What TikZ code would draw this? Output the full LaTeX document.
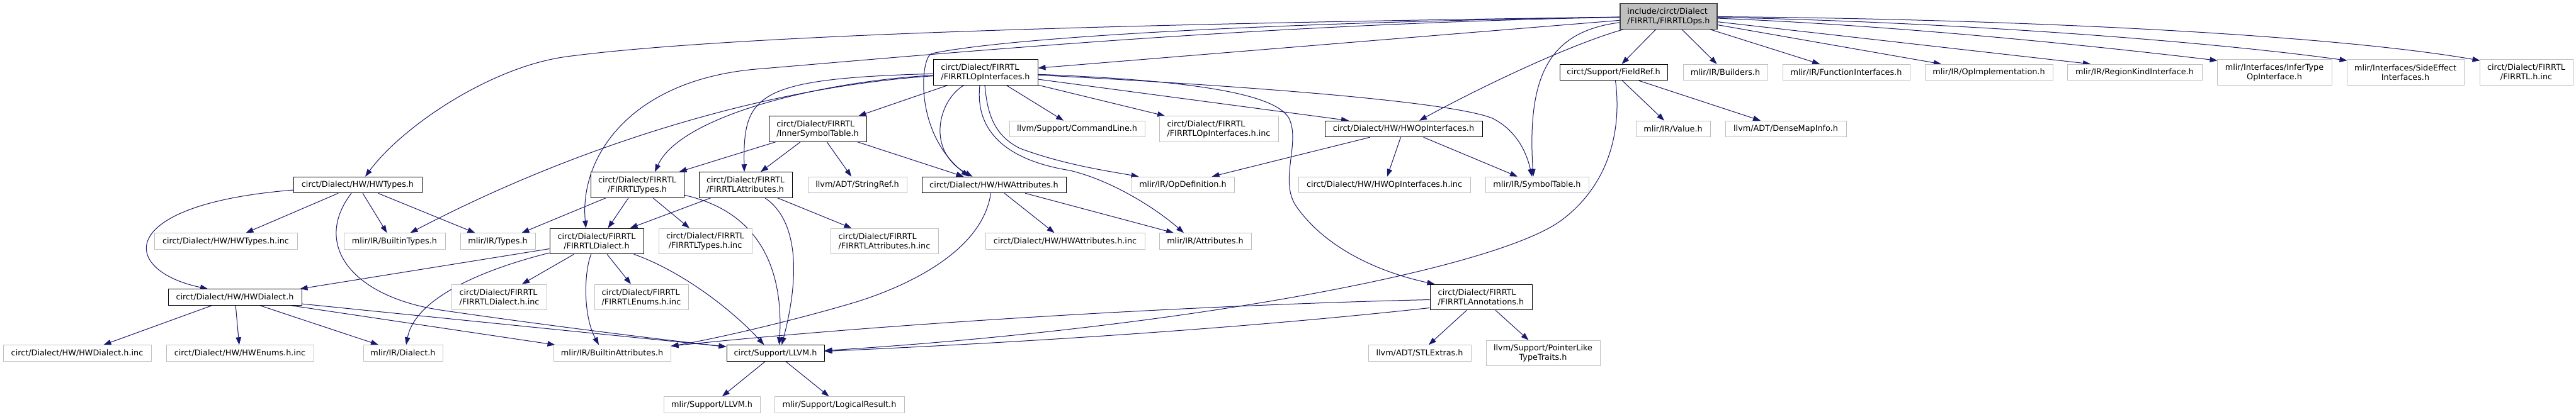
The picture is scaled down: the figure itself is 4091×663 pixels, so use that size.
\documentclass[tikz,border=0pt]{standalone}
\usepackage{fontspec}
\newfontfamily\nf{DejaVu Sans}
\usetikzlibrary{arrows.meta}
\pgfdeclarelayer{bg}
\pgfsetlayers{bg,main}
\definecolor{edgecol}{HTML}{191970}
\definecolor{extgray}{HTML}{BFBFBF}
\definecolor{rootfill}{HTML}{BFBFBF}
\definecolor{rootdraw}{HTML}{404040}
\begin{document}
\begin{tikzpicture}[x=1pt,y=-1pt,
  box/.style={rectangle, inner sep=0pt, line width=1pt, align=center,
    font=\nf\fontsize{12.8pt}{15pt}\selectfont},
  doc/.style={box, draw=black, fill=white},
  ext/.style={box, draw=extgray, fill=white},
  rootbox/.style={box, draw=rootdraw, fill=rootfill, line width=1.2pt},
  oneline/.style={minimum height=25.5pt},
  twoline/.style={minimum height=40.5pt},
  lft/.style={align=left},
  dep/.style={draw=edgecol, line width=1pt, -{Triangle[length=12pt,width=8.5pt]}}
]
\useasboundingbox (0,0) rectangle (4091,663);
\begin{pgfonlayer}{bg}
\fill[white] (0,0) rectangle (4091,663);
\end{pgfonlayer}

% Row 1
\node[rootbox, twoline, lft, minimum width=154pt] (root) at (2650,26) {include/circt/Dialect\\/FIRRTL/FIRRTLOps.h};
% Row 2
\node[doc, twoline, lft, minimum width=166pt] (OpIf) at (1565,115) {circt/Dialect/FIRRTL\\/FIRRTLOpInterfaces.h};
\node[doc, oneline, minimum width=171pt] (FieldRef) at (2562.5,115) {circt/Support/FieldRef.h};
\node[ext, oneline, minimum width=134pt] (Builders) at (2740,115) {mlir/IR/Builders.h};
\node[ext, oneline, minimum width=202pt] (FuncIf) at (2932,115) {mlir/IR/FunctionInterfaces.h};
\node[ext, oneline, minimum width=203pt] (OpImpl) at (3158.5,115) {mlir/IR/OpImplementation.h};
\node[ext, oneline, minimum width=214pt] (RegionKind) at (3390,115) {mlir/IR/RegionKindInterface.h};
\node[ext, twoline, minimum width=182pt] (InferType) at (3612,115) {mlir/Interfaces/InferType\\OpInterface.h};
\node[ext, twoline, minimum width=186pt] (SideEffect) at (3820,115) {mlir/Interfaces/SideEffect\\Interfaces.h};
\node[ext, twoline, minimum width=148pt] (FIRRTLinc) at (4012,115) {circt/Dialect/FIRRTL\\/FIRRTL.h.inc};
% Row 3
\node[doc, twoline, lft, minimum width=155pt] (InnerSym) at (1298.5,205) {circt/Dialect/FIRRTL\\/InnerSymbolTable.h};
\node[ext, oneline, minimum width=215pt] (CommandLine) at (1710.5,205) {llvm/Support/CommandLine.h};
\node[ext, twoline, lft, minimum width=189pt] (OpIfInc) at (1935.5,205) {circt/Dialect/FIRRTL\\/FIRRTLOpInterfaces.h.inc};
\node[doc, oneline, minimum width=250pt] (HWOpIf) at (2229,205) {circt/Dialect/HW/HWOpInterfaces.h};
\node[ext, oneline, minimum width=118pt] (Value) at (2657,205) {mlir/IR/Value.h};
\node[ext, oneline, minimum width=192pt] (DenseMap) at (2836,205) {llvm/ADT/DenseMapInfo.h};
% Row 4
\node[doc, oneline, minimum width=204pt] (HWTypes) at (568,294) {circt/Dialect/HW/HWTypes.h};
\node[doc, twoline, minimum width=148pt] (FTypes) at (1012,294) {circt/Dialect/FIRRTL\\/FIRRTLTypes.h};
\node[doc, twoline, lft, minimum width=148pt] (FAttrs) at (1184,294) {circt/Dialect/FIRRTL\\/FIRRTLAttributes.h};
\node[ext, oneline, minimum width=157pt] (StringRef) at (1361.5,294) {llvm/ADT/StringRef.h};
\node[doc, oneline, minimum width=229pt] (HWAttrs) at (1578.5,294) {circt/Dialect/HW/HWAttributes.h};
\node[ext, oneline, minimum width=163pt] (OpDef) at (1878.5,294) {mlir/IR/OpDefinition.h};
\node[ext, oneline, minimum width=273pt] (HWOpIfInc) at (2198.5,294) {circt/Dialect/HW/HWOpInterfaces.h.inc};
\node[ext, oneline, minimum width=164pt] (SymTab) at (2441,294) {mlir/IR/SymbolTable.h};
% Row 5
\node[ext, oneline, minimum width=227pt] (HWTypesInc) at (358.5,383.5) {circt/Dialect/HW/HWTypes.h.inc};
\node[ext, oneline, minimum width=161pt] (BuiltinTypes) at (626.5,383.5) {mlir/IR/BuiltinTypes.h};
\node[ext, oneline, minimum width=119pt] (Types) at (790.5,383.5) {mlir/IR/Types.h};
\node[doc, twoline, minimum width=149pt] (FDialect) at (947.5,383.5) {circt/Dialect/FIRRTL\\/FIRRTLDialect.h};
\node[ext, twoline, minimum width=148pt] (FTypesInc) at (1120,383.5) {circt/Dialect/FIRRTL\\/FIRRTLTypes.h.inc};
\node[ext, twoline, lft, minimum width=171pt] (FAttrsInc) at (1404.5,383.5) {circt/Dialect/FIRRTL\\/FIRRTLAttributes.h.inc};
\node[ext, oneline, minimum width=253pt] (HWAttrsInc) at (1691.5,383.5) {circt/Dialect/HW/HWAttributes.h.inc};
\node[ext, oneline, minimum width=146pt] (Attributes) at (1914,383.5) {mlir/IR/Attributes.h};
% Row 6
\node[doc, oneline, minimum width=212pt] (HWDialect) at (373,472.5) {circt/Dialect/HW/HWDialect.h};
\node[ext, twoline, lft, minimum width=151pt] (FDialectInc) at (793,472.5) {circt/Dialect/FIRRTL\\/FIRRTLDialect.h.inc};
\node[ext, twoline, lft, minimum width=149pt] (FEnumsInc) at (1018.5,472.5) {circt/Dialect/FIRRTL\\/FIRRTLEnums.h.inc};
\node[doc, twoline, lft, minimum width=162pt] (FAnno) at (2352,472.5) {circt/Dialect/FIRRTL\\/FIRRTLAnnotations.h};
% Row 7
\node[ext, oneline, minimum width=235pt] (HWDialectInc) at (122.5,561.5) {circt/Dialect/HW/HWDialect.h.inc};
\node[ext, oneline, minimum width=234pt] (HWEnumsInc) at (381,561.5) {circt/Dialect/HW/HWEnums.h.inc};
\node[ext, oneline, minimum width=126pt] (Dialect) at (640,561.5) {mlir/IR/Dialect.h};
\node[ext, oneline, minimum width=186pt] (BuiltinAttrs) at (972,561.5) {mlir/IR/BuiltinAttributes.h};
\node[doc, oneline, minimum width=155pt] (CLLVM) at (1231.5,561.5) {circt/Support/LLVM.h};
\node[ext, oneline, minimum width=163pt] (STLExtras) at (2254.5,561.5) {llvm/ADT/STLExtras.h};
\node[ext, twoline, minimum width=181pt] (PtrLike) at (2450.5,561.5) {llvm/Support/PointerLike\\TypeTraits.h};
% Row 8
\node[ext, oneline, minimum width=153pt] (MLLVM) at (1130.5,643.5) {mlir/Support/LLVM.h};
\node[ext, oneline, minimum width=206pt] (LogicalResult) at (1333,643.5) {mlir/Support/LogicalResult.h};

\begin{pgfonlayer}{bg}
% root
\draw[dep] (root) .. controls (2000,35) and (1200,50) .. (900,90) .. controls (780,106) and (640,200) .. ([xshift=12pt]HWTypes.north);
\draw[dep] (root) .. controls (2000,38) and (1500,85) .. (1200,110) .. controls (1000,128) and (920,250) .. ([xshift=-17pt]FDialect.north);
\draw[dep] (root) .. controls (2000,36) and (1600,60) .. (1480,85) .. controls (1462,89) and (1450,210) .. ([xshift=-40pt]HWAttrs.north);
\draw[dep] (root) -- (OpIf);
\draw[dep] (root) .. controls (2480,75) and (2330,150) .. ([xshift=25pt]HWOpIf.north);
\draw[dep] (root) .. controls (2460,50) and (2425,120) .. ([xshift=-6pt]SymTab.north);
\draw[dep] (root) -- (FieldRef);
\draw[dep] (root) -- (Builders);
\draw[dep] (root) -- (FuncIf);
\draw[dep] (root) -- (OpImpl);
\draw[dep] (root) -- ([xshift=-70pt]RegionKind.north);
\draw[dep] (root) .. controls (3000,40) and (3300,70) .. ([xshift=1pt,yshift=-2pt]InferType.north west);
\draw[dep] (root) .. controls (3100,35) and (3500,65) .. ([xshift=1pt,yshift=-2pt]SideEffect.north west);
\draw[dep] (root) .. controls (3200,30) and (3700,55) .. ([xshift=1pt,yshift=-2pt]FIRRTLinc.north west);
% FIRRTLOpInterfaces
\draw[dep] (OpIf) -- ([xshift=-13pt]InnerSym.north east);
\draw[dep] (OpIf) .. controls (1300,130) and (1080,185) .. ([xshift=28pt]FTypes.north);
\draw[dep] (OpIf) .. controls (1200,125) and (1180,150) .. ([xshift=-2pt]FAttrs.north);
\draw[dep] (OpIf) .. controls (1200,140) and (900,240) .. ([xshift=25pt]BuiltinTypes.north);
\draw[dep] (OpIf) .. controls (1490,160) and (1470,240) .. ([xshift=-34pt]HWAttrs.north);
\draw[dep] (OpIf) -- (CommandLine);
\draw[dep] (OpIf) -- (OpIfInc);
\draw[dep] ([xshift=-1pt]OpIf.south) .. controls (1568,180) and (1578,215) .. (1620,236) .. controls (1690,262) and (1760,272) .. ([xshift=-70pt]OpDef.north);
\draw[dep] ([xshift=-9pt]OpIf.south) .. controls (1548,210) and (1600,255) .. (1699,271) .. controls (1770,288) and (1840,335) .. ([xshift=-34pt]Attributes.north);
\draw[dep] (OpIf) -- ([xshift=-87pt]HWOpIf.north);
\draw[dep] (OpIf) .. controls (1950,135) and (2300,160) .. (2370,188) .. controls (2410,208) and (2425,245) .. ([xshift=-8pt]SymTab.north);
\draw[dep] (OpIf) .. controls (1900,128) and (2030,150) .. (2048,190) .. controls (2065,230) and (2030,290) .. (2060,330) .. controls (2110,400) and (2200,435) .. ([xshift=8pt]FAnno.north west);
% InnerSymbolTable
\draw[dep] (InnerSym) -- ([xshift=-8pt]FTypes.north east);
\draw[dep] (InnerSym) -- ([xshift=24pt]FAttrs.north);
\draw[dep] (InnerSym) -- (StringRef);
\draw[dep] (InnerSym) -- ([xshift=-48pt]HWAttrs.north);
% FIRRTLTypes
\draw[dep] (FTypes) -- ([xshift=38pt]Types.north);
\draw[dep] (FTypes) -- ([xshift=18pt]FDialect.north);
\draw[dep] (FTypes) -- (FTypesInc);
\draw[dep] (FTypes) .. controls (1200,335) and (1245,420) .. ([xshift=6pt]CLLVM.north);
% FIRRTLAttributes
\draw[dep] (FAttrs) -- ([xshift=-22pt]FDialect.north east);
\draw[dep] (FAttrs) .. controls (1260,345) and (1275,420) .. ([xshift=10pt]CLLVM.north);
\draw[dep] (FAttrs) -- ([xshift=-52pt]FAttrsInc.north);
% FIRRTLDialect
\draw[dep] (FDialect) -- ([xshift=-3pt]HWDialect.north east);
\draw[dep] (FDialect) .. controls (780,425) and (660,470) .. ([xshift=5pt]Dialect.north);
\draw[dep] (FDialect) -- (FDialectInc);
\draw[dep] (FDialect) .. controls (928,430) and (925,500) .. ([xshift=-21pt]BuiltinAttrs.north);
\draw[dep] (FDialect) -- (FEnumsInc);
\draw[dep] (FDialect) .. controls (1080,430) and (1160,490) .. ([xshift=-18pt]CLLVM.north);
% HWTypes
\draw[dep] (HWTypes) .. controls (180,325) and (190,430) .. ([xshift=-43pt]HWDialect.north);
\draw[dep] (HWTypes) -- ([xshift=32pt]HWTypesInc.north);
\draw[dep] ([xshift=-10pt]HWTypes.south) .. controls (495,390) and (560,472) .. (700,493) .. controls (850,515) and (1050,540) .. ([yshift=-3pt]CLLVM.north west);
\draw[dep] (HWTypes) -- ([xshift=-12pt]BuiltinTypes.north);
\draw[dep] (HWTypes) -- ([xshift=-36pt]Types.north);
% HWDialect
\draw[dep] (HWDialect) -- ([xshift=42pt]HWDialectInc.north);
\draw[dep] (HWDialect) -- (HWEnumsInc);
\draw[dep] (HWDialect) -- ([xshift=-39pt]Dialect.north);
\draw[dep] (HWDialect) -- ([xshift=3pt]BuiltinAttrs.north west);
\draw[dep] (HWDialect) -- ([yshift=-3pt]CLLVM.north west);
% HWAttributes
\draw[dep] (HWAttrs) -- ([xshift=-17pt]HWAttrsInc.north);
\draw[dep] (HWAttrs) -- ([xshift=-50pt]Attributes.north);
\draw[dep] ([xshift=-5pt]HWAttrs.south) .. controls (1560,400) and (1440,455) .. (1360,480) .. controls (1260,510) and (1130,540) .. ([yshift=-2pt]BuiltinAttrs.north east);
% HWOpInterfaces
\draw[dep] (HWOpIf) -- (HWOpIfInc);
\draw[dep] (HWOpIf) -- ([xshift=-31pt]SymTab.north);
\draw[dep] (HWOpIf) -- ([xshift=46pt]OpDef.north);
% FieldRef
\draw[dep] (FieldRef) -- (Value);
\draw[dep] (FieldRef) -- ([xshift=-40pt]DenseMap.north);
\draw[dep] ([xshift=3pt]FieldRef.south) .. controls (2575,200) and (2560,290) .. (2480,350) .. controls (2380,425) and (1900,520) .. ([yshift=4pt]CLLVM.east);
% FIRRTLAnnotations
\draw[dep] (FAnno) -- (STLExtras);
\draw[dep] (FAnno) -- (PtrLike);
\draw[dep] ([yshift=-4pt]FAnno.west) .. controls (1900,485) and (1400,515) .. ([yshift=-2pt]BuiltinAttrs.north east);
\draw[dep] ([yshift=-17pt]FAnno.west) .. controls (1900,530) and (1500,550) .. ([yshift=3pt]CLLVM.east);
% circt/Support/LLVM.h
\draw[dep] (CLLVM) -- (MLLVM);
\draw[dep] (CLLVM) -- (LogicalResult);
\end{pgfonlayer}
\end{tikzpicture}
\end{document}
